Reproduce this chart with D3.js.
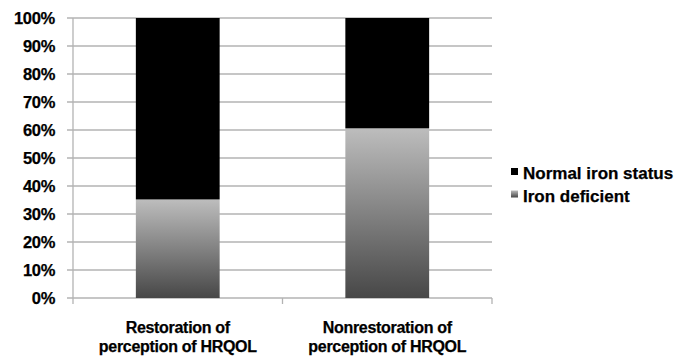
<!DOCTYPE html>
<html><head><meta charset="utf-8">
<script src="https://cdn.jsdelivr.net/npm/d3@7"></script>
<style>body{margin:0;background:#fff}text{font-family:"Liberation Sans",Arial,sans-serif;font-weight:bold;fill:#000;stroke:#000;stroke-width:0.25px}</style>
</head><body>
<svg id="c" width="676" height="356"></svg>
<script>
const categories = [["Restoration of","perception of HRQOL"],["Nonrestoration of","perception of HRQOL"]];
const ironDeficient = [35.2, 60.6];
const normalIron = [64.8, 39.4];
const seriesNames = ["Normal iron status","Iron deficient"];
const yTicks = [0,10,20,30,40,50,60,70,80,90,100];

const svg = d3.select("#c");
const L=73, R=492, T=18, B=298;
const x = d3.scaleBand().domain(d3.range(categories.length)).range([L,R]).paddingInner(0.6).paddingOuter(0.3);
const y = d3.scaleLinear().domain([0,100]).range([B,T]);

const defs = svg.append("defs");
const g = defs.append("linearGradient").attr("id","grad").attr("x1",0).attr("y1",0).attr("x2",0).attr("y2",1);
g.append("stop").attr("offset","0%").attr("stop-color","#bdbdbd");
g.append("stop").attr("offset","100%").attr("stop-color","#474747");

// gridlines
svg.append("g").selectAll("line").data(yTicks).join("line")
  .attr("x1",L-6).attr("x2",R).attr("y1",d=>y(d)).attr("y2",d=>y(d))
  .attr("stroke","#b3b3b3").attr("stroke-width",1.3);
// y axis line
svg.append("line").attr("x1",L).attr("x2",L).attr("y1",T).attr("y2",B+6).attr("stroke","#b3b3b3").attr("stroke-width",1.3);
// category ticks
const bw = (R-L)/categories.length;
svg.append("g").selectAll("line").data(d3.range(categories.length)).join("line")
  .attr("x1",d=>L+bw*(d+1)).attr("x2",d=>L+bw*(d+1)).attr("y1",B).attr("y2",B+6)
  .attr("stroke","#b3b3b3").attr("stroke-width",1.3);

// y labels
svg.append("g").selectAll("text").data(yTicks).join("text")
  .attr("x",55).attr("y",d=>y(d)+6).attr("text-anchor","end").attr("font-size","16.5px")
  .attr("letter-spacing","-0.3px").text(d=>d+"%");

// bars
const idx = d3.range(categories.length);
svg.append("g").selectAll("rect").data(idx).join("rect")
  .attr("x",i=>x(i)).attr("width",x.bandwidth())
  .attr("y",i=>y(ironDeficient[i])).attr("height",i=>y(0)-y(ironDeficient[i]))
  .attr("fill","url(#grad)");
svg.append("g").selectAll("rect").data(idx).join("rect")
  .attr("x",i=>x(i)).attr("width",x.bandwidth())
  .attr("y",i=>y(ironDeficient[i]+normalIron[i])).attr("height",i=>y(ironDeficient[i])-y(ironDeficient[i]+normalIron[i]))
  .attr("fill","#000");

// category labels
const cl = svg.append("g").selectAll("text").data(idx).join("text")
  .attr("text-anchor","middle").attr("font-size","16px").attr("letter-spacing","-0.3px");
cl.each(function(i){
  const t=d3.select(this); const cx=x(i)+x.bandwidth()/2;
  categories[i].forEach((s,k)=>t.append("tspan").attr("x",cx).attr("y",333+k*19).text(s));
});

// legend
const lg = svg.append("g");
const fills = ["#000","url(#grad)"];
seriesNames.forEach((n,k)=>{
  lg.append("rect").attr("x",511).attr("y",168+k*22.5).attr("width",7).attr("height",7).attr("fill",fills[k]);
  lg.append("text").attr("x",523).attr("y",179+k*22.5).attr("font-size","17px").text(n);
});
</script>
</body></html>
